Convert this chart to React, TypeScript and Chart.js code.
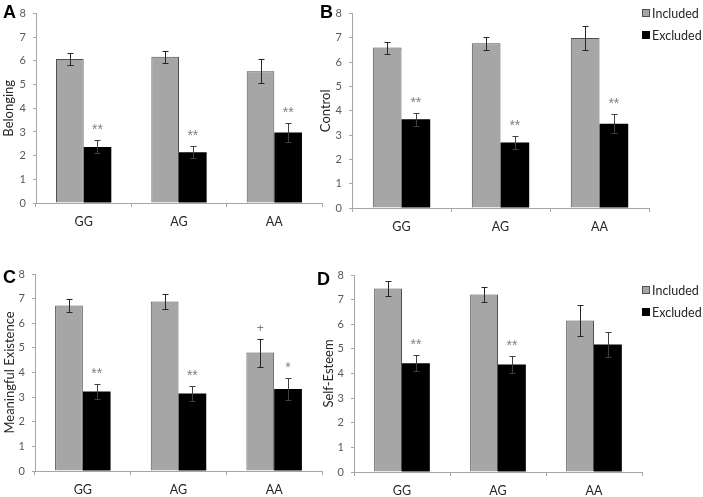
import React, { useEffect, useRef } from "react";
import { Chart, registerables } from "chart.js";

Chart.register(...registerables);

const groups = ["GG", "AG", "AA"];
const yMin = 0;
const yMax = 8;
const yStep = 1;
const seriesNames = ["Included", "Excluded"];

// Panel A – Belonging
const belongingIncluded = [6.08, 6.18, 5.57];
const belongingIncludedErr = [0.25, 0.26, 0.51];
const belongingExcluded = [2.37, 2.14, 2.98];
const belongingExcludedErr = [0.27, 0.26, 0.41];
const belongingIncludedMarks = ["", "", ""];
const belongingExcludedMarks = ["**", "**", "**"];

// Panel B – Control
const controlIncluded = [6.6, 6.78, 7.0];
const controlIncludedErr = [0.25, 0.26, 0.5];
const controlExcluded = [3.65, 2.7, 3.47];
const controlExcludedErr = [0.27, 0.26, 0.38];
const controlIncludedMarks = ["", "", ""];
const controlExcludedMarks = ["**", "**", "**"];

// Panel C – Meaningful Existence
const meaningIncluded = [6.72, 6.88, 4.81];
const meaningIncludedErr = [0.27, 0.31, 0.57];
const meaningExcluded = [3.23, 3.15, 3.33];
const meaningExcludedErr = [0.29, 0.29, 0.45];
const meaningIncludedMarks = ["", "", "+"];
const meaningExcludedMarks = ["**", "**", "*"];

// Panel D – Self-Esteem
const esteemIncluded = [7.45, 7.21, 6.15];
const esteemIncludedErr = [0.31, 0.32, 0.62];
const esteemExcluded = [4.42, 4.37, 5.18];
const esteemExcludedErr = [0.32, 0.33, 0.49];
const esteemIncludedMarks = ["", "", ""];
const esteemExcludedMarks = ["**", "**", ""];

const FONT = "Lato, 'Open Sans', sans-serif";
const MARK_FONT = "'Liberation Sans', Arial, sans-serif";
const GRAY_FILL = "#a6a6a6";
const GRAY_EDGE = "#505050";
const AXIS = "#a6a6a6";

type Box = { left: number; top: number; width: number; height: number };
type Plot = { left: number; top: number; right: number; bottom: number };

type PanelProps = {
  letter: string;
  title: string;
  included: number[];
  includedErr: number[];
  excluded: number[];
  excludedErr: number[];
  includedMarks: string[];
  excludedMarks: string[];
  box: Box;
  plot: Plot;
  letterAt: { x: number; y: number };
  titleX: number;
  legendAt?: { x: number; y: number };
};

function Panel(p: PanelProps) {
  const ref = useRef<HTMLCanvasElement | null>(null);

  useEffect(() => {
    const canvas = ref.current;
    if (!canvas) return;
    const yWidth = p.plot.left - p.box.left;
    const xHeight = p.box.top + p.box.height - p.plot.bottom;
    const padTop = p.plot.top - p.box.top;
    const padRight = p.box.left + p.box.width - p.plot.right;

    const deco = {
      id: "deco",
      afterDatasetsDraw(chart: any) {
        const ctx = chart.ctx as CanvasRenderingContext2D;
        const ys = chart.scales.y;
        const sets = [
          { v: p.included, e: p.includedErr, m: p.includedMarks },
          { v: p.excluded, e: p.excludedErr, m: p.excludedMarks },
        ];
        ctx.save();
        sets.forEach((s, i) => {
          const meta = chart.getDatasetMeta(i);
          meta.data.forEach((el: any, j: number) => {
            const x = Math.round(el.x) + 0.5;
            const yt = Math.round(ys.getPixelForValue(s.v[j] + s.e[j])) + 0.5;
            const yb = Math.round(ys.getPixelForValue(s.v[j] - s.e[j])) + 0.5;
            ctx.strokeStyle = i === 0 ? "#262626" : "#404040";
            ctx.lineWidth = 1;
            ctx.beginPath();
            ctx.moveTo(x, yb);
            ctx.lineTo(x, yt);
            ctx.moveTo(x - 3, yt);
            ctx.lineTo(x + 3, yt);
            ctx.moveTo(x - 3, yb);
            ctx.lineTo(x + 3, yb);
            ctx.stroke();
            if (s.m[j]) {
              const isPlus = s.m[j] === "+";
              ctx.fillStyle = "#808080";
              ctx.font = `${isPlus ? 12 : 14}px ${MARK_FONT}`;
              ctx.textAlign = "center";
              ctx.textBaseline = "alphabetic";
              ctx.fillText(s.m[j], el.x, yt - (isPlus ? 8 : 7));
            }
          });
        });
        ctx.restore();
      },
      afterDraw(chart: any) {
        const ctx = chart.ctx as CanvasRenderingContext2D;
        ctx.save();
        ctx.fillStyle = "#000";
        ctx.font = `bold 18px 'Liberation Sans', Arial, sans-serif`;
        ctx.textAlign = "left";
        ctx.textBaseline = "alphabetic";
        ctx.fillText(p.letter, p.letterAt.x - p.box.left, p.letterAt.y - p.box.top);
        if (p.legendAt) {
          const lx = p.legendAt.x - p.box.left;
          const ly = p.legendAt.y - p.box.top;
          const rows = [
            { name: seriesNames[0], fill: GRAY_FILL, edge: GRAY_EDGE },
            { name: seriesNames[1], fill: "#000", edge: "#000" },
          ];
          rows.forEach((r, k) => {
            const cy = ly + k * 22;
            ctx.fillStyle = r.fill;
            ctx.fillRect(lx, cy - 4, 8, 8);
            ctx.strokeStyle = r.edge;
            ctx.lineWidth = 1;
            ctx.strokeRect(lx + 0.5, cy - 3.5, 7, 7);
            ctx.fillStyle = "#262626";
            ctx.font = `12.5px ${FONT}`;
            ctx.textBaseline = "middle";
            ctx.fillText(r.name, lx + 10, cy + 0.5);
          });
        }
        ctx.restore();
      },
    };

    const chart = new Chart(canvas, {
      type: "bar",
      data: {
        labels: groups,
        datasets: [
          {
            label: seriesNames[0],
            data: p.included,
            backgroundColor: GRAY_FILL,
            borderColor: GRAY_EDGE,
            borderWidth: 1,
            categoryPercentage: 0.58,
            barPercentage: 1,
          },
          {
            label: seriesNames[1],
            data: p.excluded,
            backgroundColor: "#000",
            borderColor: "#000",
            borderWidth: 0,
            categoryPercentage: 0.58,
            barPercentage: 1,
          },
        ],
      },
      options: {
        responsive: false,
        animation: false,
        devicePixelRatio: 1,
        layout: { padding: { top: padTop, right: padRight, left: 0, bottom: 0 } },
        plugins: { legend: { display: false }, tooltip: { enabled: false } },
        scales: {
          x: {
            type: "category",
            grid: { offset: true, drawOnChartArea: false, drawTicks: true, tickLength: 4, color: AXIS },
            border: { display: true, color: AXIS, width: 1 },
            ticks: { color: "#262626", font: { family: FONT, size: 12.5 }, padding: 7, maxRotation: 0 },
            afterFit: (s: any) => {
              s.height = xHeight;
            },
          },
          y: {
            min: yMin,
            max: yMax,
            ticks: { stepSize: yStep, color: "#595959", font: { family: FONT, size: 11 }, padding: 7 },
            grid: { drawOnChartArea: false, drawTicks: true, tickLength: 3, color: AXIS },
            border: { display: true, color: AXIS, width: 1 },
            title: {
              display: true,
              text: p.title,
              color: "#262626",
              font: { family: FONT, size: 13 },
              padding: { top: p.titleX - p.box.left - 7.8, bottom: 0 },
            },
            afterFit: (s: any) => {
              s.width = yWidth;
            },
          },
        },
      },
      plugins: [deco],
    } as any);
    return () => chart.destroy();
  }, []);

  return (
    <canvas
      ref={ref}
      width={p.box.width}
      height={p.box.height}
      style={{ position: "absolute", left: p.box.left, top: p.box.top, width: p.box.width, height: p.box.height }}
    />
  );
}

export default function App() {
  return (
    <div style={{ position: "fixed", left: 0, top: 0, width: 703, height: 497, background: "#fff", overflow: "hidden" }}>
      <Panel
        letter="A"
        title="Belonging"
        included={belongingIncluded}
        includedErr={belongingIncludedErr}
        excluded={belongingExcluded}
        excludedErr={belongingExcludedErr}
        includedMarks={belongingIncludedMarks}
        excludedMarks={belongingExcludedMarks}
        box={{ left: 0, top: 0, width: 340, height: 248 }}
        plot={{ left: 36, top: 7, right: 322, bottom: 203 }}
        letterAt={{ x: 3, y: 18 }}
        titleX={9}
      />
      <Panel
        letter="B"
        title="Control"
        included={controlIncluded}
        includedErr={controlIncludedErr}
        excluded={controlExcluded}
        excludedErr={controlExcludedErr}
        includedMarks={controlIncludedMarks}
        excludedMarks={controlExcludedMarks}
        box={{ left: 316, top: 0, width: 387, height: 248 }}
        plot={{ left: 352, top: 11, right: 649, bottom: 208 }}
        letterAt={{ x: 320, y: 18 }}
        titleX={326}
        legendAt={{ x: 642, y: 13 }}
      />
      <Panel
        letter="C"
        title="Meaningful Existence"
        included={meaningIncluded}
        includedErr={meaningIncludedErr}
        excluded={meaningExcluded}
        excludedErr={meaningExcludedErr}
        includedMarks={meaningIncludedMarks}
        excludedMarks={meaningExcludedMarks}
        box={{ left: 0, top: 250, width: 340, height: 247 }}
        plot={{ left: 35, top: 274, right: 322, bottom: 471 }}
        letterAt={{ x: 3, y: 283 }}
        titleX={10}
      />
      <Panel
        letter="D"
        title="Self-Esteem"
        included={esteemIncluded}
        includedErr={esteemIncludedErr}
        excluded={esteemExcluded}
        excludedErr={esteemExcludedErr}
        includedMarks={esteemIncludedMarks}
        excludedMarks={esteemExcludedMarks}
        box={{ left: 316, top: 250, width: 387, height: 247 }}
        plot={{ left: 354, top: 275, right: 642, bottom: 472 }}
        letterAt={{ x: 317, y: 285 }}
        titleX={329}
        legendAt={{ x: 642, y: 290 }}
      />
    </div>
  );
}
